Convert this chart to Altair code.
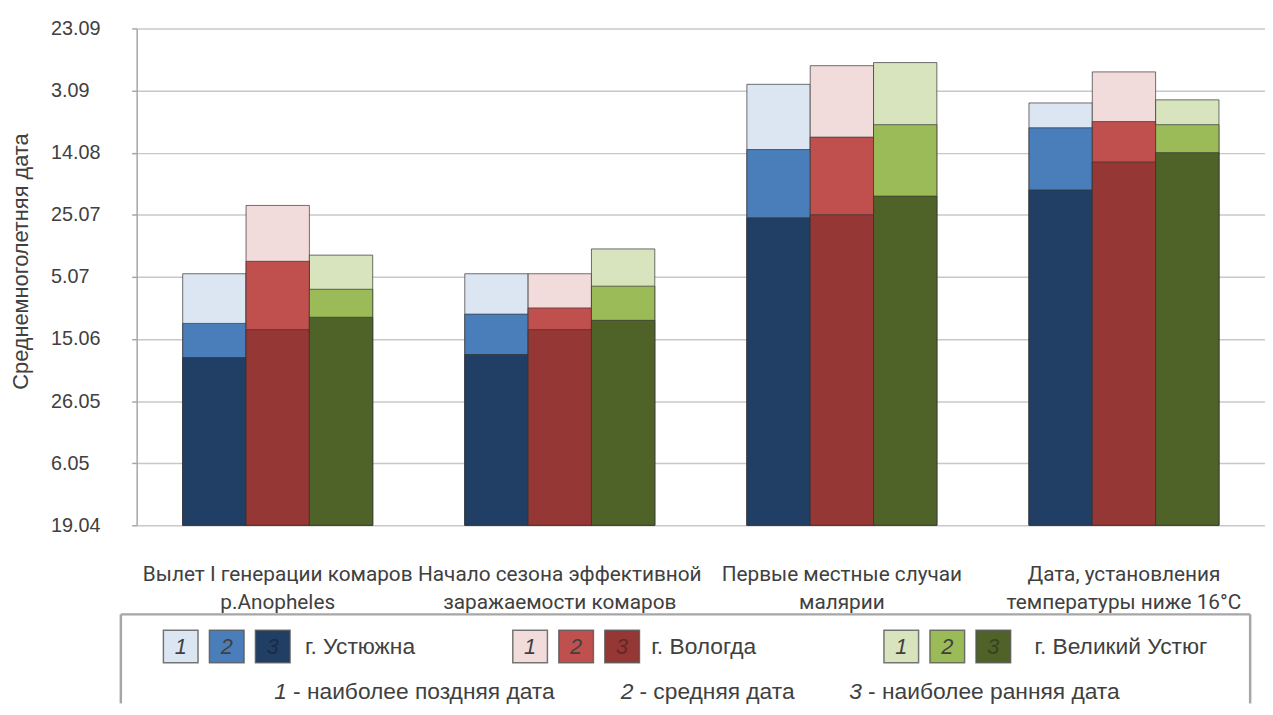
import altair as alt
import pandas as pd

# ---------------- data ----------------
categories = [
    "Вылет I генерации комаров|р.Anopheles",
    "Начало сезона эффективной|заражаемости комаров",
    "Первые местные случаи|малярии",
    "Дата,  установления|температуры ниже 16°C",
]
cities = ["г. Устюжна", "г. Вологда", "г. Великий Устюг"]

# values = days after 19.04 (one axis step = 20 days)
# 1 - latest date, 2 - mean date, 3 - earliest date
ust_1 = [81, 81, 142, 136]
ust_2 = [65, 68, 121, 128]
ust_3 = [54, 55, 99, 108]
vol_1 = [103, 81, 148, 146]
vol_2 = [85, 70, 125, 130]
vol_3 = [63, 63, 100, 117]
vus_1 = [87, 89, 149, 137]
vus_2 = [76, 77, 129, 129]
vus_3 = [67, 66, 106, 120]

tick_values = [0, 20, 40, 60, 80, 100, 120, 140, 160]
tick_labels = ["19.04", "6.05", "26.05", "15.06", "5.07", "25.07", "14.08", "3.09", "23.09"]

ust_colors = ["#dce6f2", "#4a7ebb", "#213f65"]
vol_colors = ["#f2dcdb", "#c0504d", "#953735"]
vus_colors = ["#d7e4bd", "#9bbb59", "#4f6228"]

note_digits = ["1", "2", "3"]
note_texts = ["- наиболее поздняя дата", "- средняя дата", "- наиболее ранняя дата"]

y_title = "Среднемноголетняя дата"

# ---------------- tables ----------------
series = {
    cities[0]: [ust_1, ust_2, ust_3],
    cities[1]: [vol_1, vol_2, vol_3],
    cities[2]: [vus_1, vus_2, vus_3],
}
palette = {cities[0]: ust_colors, cities[1]: vol_colors, cities[2]: vus_colors}

rows = []
for lev in range(3):
    for city in cities:
        for ci, cat in enumerate(categories):
            rows.append({"cat": cat, "city": city, "level": lev + 1,
                         "key": f"{city}|{lev + 1}", "value": series[city][lev][ci]})
df = pd.DataFrame(rows)

keys = [f"{c}|{l}" for c in cities for l in (1, 2, 3)]
rng = [palette[c][l - 1] for c in cities for l in (1, 2, 3)]
color_scale = alt.Scale(domain=keys, range=rng)

label_expr = "[" + ",".join(f"'{t}'" for t in tick_labels) + "][round(datum.value / 20)]"

W = 1127
H = 502
GRAY = "#404040"

bars = alt.Chart(df).mark_bar(stroke="#333333", strokeWidth=1, strokeOpacity=0.7).encode(
    x=alt.X("cat:N", sort=categories,
            scale=alt.Scale(range=[0, 1140], paddingInner=0, paddingOuter=0),
            axis=alt.Axis(title=None, labelAngle=0, labelExpr="split(datum.value, '|')",
                          ticks=False, domain=False, labelFont="Roboto", labelFontSize=21,
                          labelColor=GRAY, labelLineHeight=28, labelPadding=39, labelLimit=400)),
    xOffset=alt.XOffset("city:N", sort=cities,
                        scale=alt.Scale(paddingInner=0, paddingOuter=0.727)),
    y=alt.Y("value:Q", stack=None,
            scale=alt.Scale(domain=[0, 160], nice=False, zero=True),
            axis=alt.Axis(values=tick_values, labelExpr=label_expr, grid=True,
                          gridColor="#c8c8c8", gridWidth=1.5, tickSize=5, tickColor="#a6a6a6",
                          tickWidth=1.5, domainColor="#a6a6a6", domainWidth=1.5,
                          labelAlign="left", labelPadding=82, labelFont="Liberation Sans",
                          labelFontSize=20, labelColor=GRAY, title=y_title,
                          titleFont="Liberation Sans", titleFontSize=22, titleFontWeight="normal",
                          titleColor=GRAY, titleX=-117, titleY=235, titleAngle=270,
                          titleAlign="center", titleBaseline="middle")),
    color=alt.Color("key:N", scale=color_scale, legend=None),
    order=alt.Order("level:Q", sort="ascending"),
).properties(width=W, height=H)

# ---------------- custom legend ----------------
# layout in pixels relative to the legend frame's left edge / top edge
BOX_W = 1141
LEG_H = 90
ORIGIN = 16  # frame starts 16 px left of the plot origin
group_x = [43, 396, 771]
slot_step = 46.5
sq_w = 35
sq_top, sq_bot = 16, 49
row1_y = 33
row2_y = 79
city_x = [186, 536, 923]
note_x = [155, 505, 736]
note_gap = 19

sq_rows = []
for gi, city in enumerate(cities):
    for l in (1, 2, 3):
        x0 = group_x[gi] + (l - 1) * slot_step
        sq_rows.append({"x": x0, "x2": x0 + sq_w, "y": sq_top, "y2": sq_bot,
                        "xc": x0 + sq_w / 2, "yc": row1_y, "key": f"{city}|{l}",
                        "level": l, "digit": str(l)})
sq_df = pd.DataFrame(sq_rows)
city_df = pd.DataFrame({"x": city_x, "y": [row1_y] * 3, "text": cities})
note_df = pd.DataFrame({"x": note_x, "x_rest": [v + note_gap for v in note_x],
                        "y": [row2_y] * 3, "digit": note_digits, "text": note_texts})
frame_df = pd.DataFrame({"x": [0, 0, BOX_W], "x2": [BOX_W, 0, BOX_W],
                         "y": [0, 0, 0], "y2": [0, LEG_H, LEG_H]})

lx = alt.Scale(domain=[ORIGIN, ORIGIN + W], nice=False, zero=False)
ly = alt.Scale(domain=[0, LEG_H], reverse=True, nice=False, zero=False)

frame = alt.Chart(frame_df).mark_rule(color="#a6a6a6", strokeWidth=2.5).encode(
    x=alt.X("x:Q", scale=lx, axis=None), x2="x2:Q",
    y=alt.Y("y:Q", scale=ly, axis=None), y2="y2:Q")

squares = alt.Chart(sq_df).mark_rect(stroke="#555555", strokeWidth=1.5, strokeOpacity=0.8).encode(
    x=alt.X("x:Q", scale=lx, axis=None), x2="x2:Q",
    y=alt.Y("y:Q", scale=ly, axis=None), y2="y2:Q",
    color=alt.Color("key:N", scale=color_scale, legend=None))

sq_digits = alt.Chart(sq_df).mark_text(font="Liberation Sans", fontStyle="italic", fontSize=22,
                                       baseline="middle", align="center").encode(
    x=alt.X("xc:Q", scale=lx, axis=None),
    y=alt.Y("yc:Q", scale=ly, axis=None),
    text="digit:N",
    color=alt.condition(alt.datum.level == 3, alt.value("#0a0a0a"), alt.value(GRAY)),
    opacity=alt.condition(alt.datum.level == 3, alt.value(0.35), alt.value(1.0)))

city_text = alt.Chart(city_df).mark_text(font="Liberation Sans", fontSize=23, align="left",
                                         baseline="middle", color=GRAY).encode(
    x=alt.X("x:Q", scale=lx, axis=None),
    y=alt.Y("y:Q", scale=ly, axis=None),
    text="text:N")

note_digit = alt.Chart(note_df).mark_text(font="Liberation Sans", fontSize=23, fontStyle="italic",
                                          align="left", baseline="middle", color=GRAY).encode(
    x=alt.X("x:Q", scale=lx, axis=None),
    y=alt.Y("y:Q", scale=ly, axis=None),
    text="digit:N")

note_rest = alt.Chart(note_df).mark_text(font="Liberation Sans", fontSize=23,
                                         align="left", baseline="middle", color=GRAY).encode(
    x=alt.X("x_rest:Q", scale=lx, axis=None),
    y=alt.Y("y:Q", scale=ly, axis=None),
    text="text:N")

legend = alt.layer(frame, squares, sq_digits, city_text, note_digit, note_rest).properties(
    width=W, height=LEG_H)

chart = alt.vconcat(bars, legend, spacing=0).properties(
    padding={"left": 2, "top": 7, "right": 0, "bottom": 2},
    background="white",
).configure_view(stroke=None)

chart.save("out.html", embed_options={"renderer": "svg", "actions": False})
